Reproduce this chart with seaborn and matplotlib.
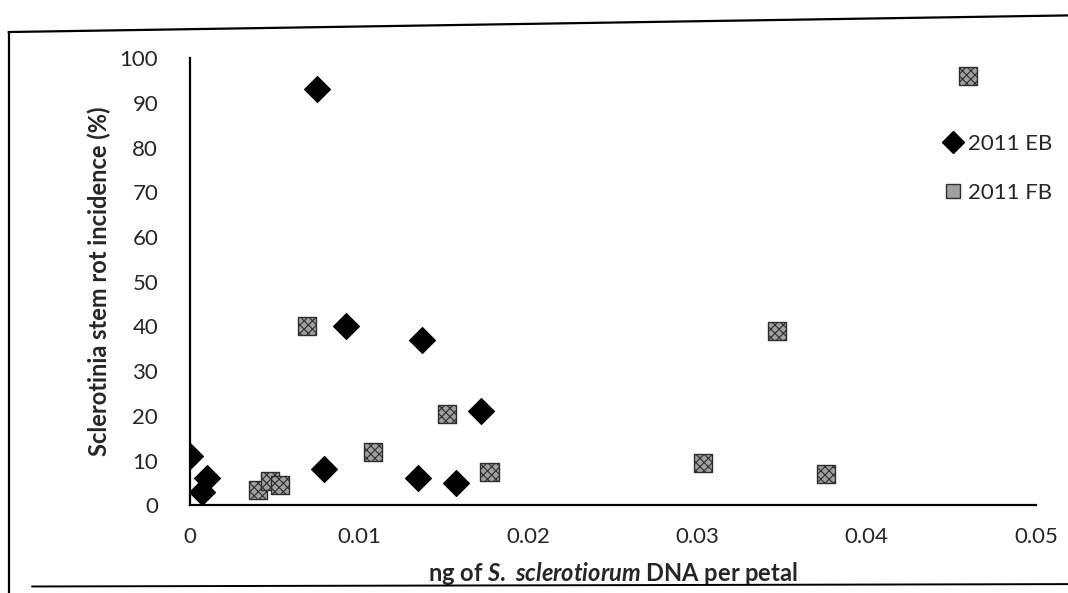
import matplotlib
matplotlib.use("Agg")
import matplotlib.pyplot as plt
from matplotlib.lines import Line2D
import seaborn as sns
import pandas as pd

# Data
eb_x = [0.0, 0.0007, 0.001, 0.0075, 0.0079, 0.0092, 0.0135, 0.0137, 0.0157, 0.0172]
eb_y = [11, 3, 6, 93, 8, 40, 6, 37, 5, 21]
fb_x = [0.0040, 0.0047, 0.0053, 0.0069, 0.0108, 0.0152, 0.0177, 0.0303, 0.0347, 0.0376, 0.0460]
fb_y = [3.5, 5.5, 4.5, 40, 12, 20.5, 7.5, 9.5, 39, 7, 96]
series_names = ["2011 EB", "2011 FB"]
x_ticks = [0, 0.01, 0.02, 0.03, 0.04, 0.05]
x_tick_labels = ["0", "0.01", "0.02", "0.03", "0.04", "0.05"]
y_ticks = list(range(0, 101, 10))

df = pd.concat([
    pd.DataFrame({"x": eb_x, "y": eb_y, "series": series_names[0]}),
    pd.DataFrame({"x": fb_x, "y": fb_y, "series": series_names[1]}),
], ignore_index=True)

sns.set_style("white")
plt.rcParams["font.family"] = ["Lato", "DejaVu Sans"]
plt.rcParams["mathtext.fontset"] = "custom"
plt.rcParams["mathtext.rm"] = "Lato:bold"
plt.rcParams["mathtext.it"] = "Lato:bold:italic"
plt.rcParams["mathtext.bf"] = "Lato:bold"
plt.rcParams["hatch.color"] = "#2e2e2e"
plt.rcParams["hatch.linewidth"] = 0.8

fig = plt.figure(figsize=(10.68, 5.93), dpi=100)
ax = fig.add_axes([0.178, 0.148, 0.792, 0.754])

sns.scatterplot(data=df[df.series == series_names[0]], x="x", y="y",
                marker="D", color="black", s=175, linewidth=0.8, edgecolor="black",
                ax=ax, legend=False, zorder=3)
sns.scatterplot(data=df[df.series == series_names[1]], x="x", y="y",
                marker="s", color="#a0a0a0", s=170, linewidth=1.0, edgecolor="#2e2e2e",
                ax=ax, legend=False, zorder=3)
ax.collections[-1].set_hatch("xxxx")

ax.set_xlim(0, 0.05)
ax.set_ylim(0, 100)
ax.set_xticks(x_ticks)
ax.set_xticklabels(x_tick_labels)
ax.set_yticks(y_ticks)
ax.tick_params(axis="x", direction="out", length=6, width=1.2, color="black",
               labelsize=16, pad=10)
ax.tick_params(axis="y", direction="out", length=6, width=1.2, color="black",
               labelsize=16, pad=17)
for side in ["top", "right"]:
    ax.spines[side].set_visible(False)
for side in ["left", "bottom"]:
    ax.spines[side].set_color("black")
    ax.spines[side].set_linewidth(1.6)
ax.margins(0)

ax.set_xlabel(r"ng of $S.\ sclerotiorum$ DNA per petal", fontsize=17, fontweight="bold", labelpad=9)
ax.set_ylabel("Sclerotinia stem rot incidence (%)", fontsize=17, fontweight="bold", labelpad=6)

handles = [
    Line2D([], [], marker="D", linestyle="none", markersize=11, markerfacecolor="black",
           markeredgecolor="black"),
    Line2D([], [], marker="s", linestyle="none", markersize=10.5, markerfacecolor="#a0a0a0",
           markeredgecolor="#2e2e2e"),
]
leg = ax.legend(handles, series_names, loc="upper left", bbox_to_anchor=(0.885, 0.83),
                frameon=False, fontsize=16, handletextpad=0.0, labelspacing=1.3,
                handlelength=1.3, borderaxespad=0, borderpad=0)

# scanned-page outer border
fig.add_artist(Line2D([0.008, 0.008], [0.0, 0.946], transform=fig.transFigure,
                      color="black", linewidth=1.6))
fig.add_artist(Line2D([0.008, 1.0], [0.946, 0.974], transform=fig.transFigure,
                      color="black", linewidth=1.6))
fig.add_artist(Line2D([0.03, 1.0], [0.011, 0.015], transform=fig.transFigure,
                      color="black", linewidth=1.4))

fig.savefig("out.png", dpi=100, facecolor="white")
